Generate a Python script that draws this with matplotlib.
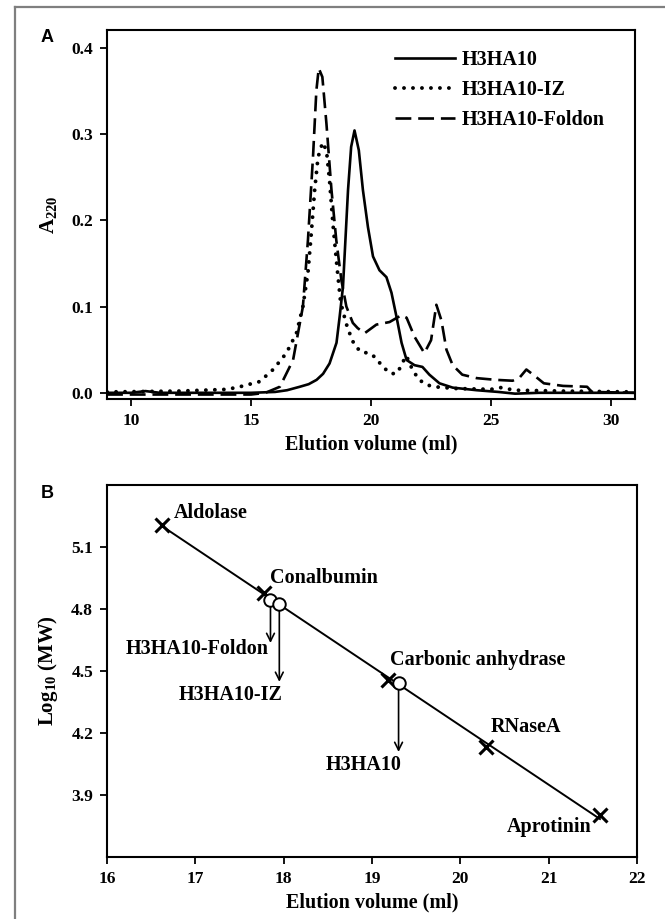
import numpy as np
import matplotlib
matplotlib.use("Agg")
import matplotlib.pyplot as plt
from matplotlib.lines import Line2D

plt.rcParams["font.family"] = "Liberation Serif"
plt.rcParams["font.weight"] = "bold"
plt.rcParams["axes.labelweight"] = "bold"
plt.rcParams["mathtext.fontset"] = "custom"
plt.rcParams["mathtext.rm"] = "Liberation Serif:bold"
plt.rcParams["mathtext.bf"] = "Liberation Serif:bold"

# --- panel A: elution profiles (volume ml, A220) ---
h3_vol = [9.0, 10.0, 10.6, 11.2, 13.0, 15.0, 16.0, 16.5, 17.03, 17.4, 17.73, 18.0, 18.27, 18.56,
          18.69, 18.83, 19.04, 19.17, 19.31, 19.49, 19.66, 19.87, 20.08, 20.35, 20.64, 20.85,
          21.06, 21.27, 21.48, 21.81, 22.14, 22.43, 22.85, 23.4, 24.4, 25.3, 26.0, 27.0, 31.0]
h3_abs = [0.0, 0.0, 0.002, 0.0, 0.0, 0.0, 0.001, 0.003, 0.007, 0.010, 0.015, 0.022, 0.034, 0.058,
          0.088, 0.123, 0.235, 0.285, 0.304, 0.281, 0.235, 0.192, 0.158, 0.142, 0.134, 0.116,
          0.088, 0.058, 0.038, 0.032, 0.030, 0.021, 0.011, 0.006, 0.003, 0.001, -0.001, 0.0, 0.0]

iz_vol = [9.0, 12.0, 14.0, 14.53, 15.36, 15.92, 16.47, 16.89, 17.16, 17.37, 17.51, 17.65, 17.79,
          17.98, 18.14, 18.27, 18.41, 18.58, 18.72, 18.81, 19.02, 19.31, 19.6, 19.94, 20.22,
          20.48, 20.85, 21.1, 21.31, 21.47, 21.72, 22.0, 22.35, 22.64, 23.5, 25.0, 25.4, 26.0,
          28.0, 31.0]
iz_abs = [0.001, 0.002, 0.004, 0.007, 0.013, 0.027, 0.046, 0.069, 0.100, 0.139, 0.185, 0.235, 0.273,
          0.290, 0.281, 0.246, 0.196, 0.146, 0.108, 0.096, 0.075, 0.055, 0.047, 0.046, 0.040,
          0.030, 0.022, 0.023, 0.035, 0.043, 0.027, 0.015, 0.009, 0.007, 0.005, 0.004, 0.006,
          0.003, 0.002, 0.001]

fol_vol = [9.0, 12.0, 15.0, 15.6, 16.2, 16.75, 17.16, 17.37, 17.58, 17.72, 17.82, 17.97, 18.14,
           18.35, 18.55, 18.76, 18.97, 19.24, 19.44, 19.73, 20.22, 20.77, 21.27, 21.48, 21.81,
           22.22, 22.5, 22.72, 22.93, 23.14, 23.4, 23.8, 24.4, 25.2, 25.9, 26.2, 26.47, 26.8,
           27.2, 28.0, 29.0, 29.2, 31.0]
fol_abs = [-0.002, -0.002, -0.002, 0.0, 0.007, 0.038, 0.100, 0.177, 0.273, 0.350, 0.376, 0.366,
           0.312, 0.235, 0.177, 0.131, 0.100, 0.081, 0.075, 0.069, 0.079, 0.082, 0.090, 0.087,
           0.065, 0.046, 0.061, 0.102, 0.084, 0.050, 0.032, 0.021, 0.017, 0.015, 0.014, 0.018,
           0.027, 0.020, 0.011, 0.008, 0.007, 0.001, 0.0]

# --- panel B: calibration ---
std_names = ["Aldolase", "Conalbumin", "Carbonic anhydrase", "RNaseA", "Aprotinin"]
std_vol = [16.62, 17.78, 19.18, 20.29, 21.58]
std_logmw = [5.206, 4.877, 4.457, 4.132, 3.803]

smp_names = ["H3HA10-Foldon", "H3HA10-IZ", "H3HA10"]
smp_vol = [17.85, 17.95, 19.30]
smp_logmw = [4.843, 4.824, 4.442]
arrow_end = [4.635, 4.447, 4.108]

fig = plt.figure(figsize=(6.65, 9.19), dpi=100)
ax1 = fig.add_axes([0.161, 0.566, 0.794, 0.401])
ax2 = fig.add_axes([0.161, 0.0675, 0.797, 0.405])

# outer frame
fig.add_artist(Line2D([15 / 665, 15 / 665], [0, 1 - 7 / 919], color="#7f7f7f", lw=1.6))
fig.add_artist(Line2D([15 / 665, 1], [1 - 7 / 919, 1 - 7 / 919], color="#7f7f7f", lw=1.6))

ax1.plot(h3_vol, h3_abs, color="black", lw=1.9, label="H3HA10")
ax1.plot(iz_vol, iz_abs, color="black", lw=2.8, linestyle=(0, (0.01, 2.3)),
         dash_capstyle="round", label="H3HA10-IZ")
ax1.plot(fol_vol, fol_abs, color="black", lw=1.9, linestyle=(0, (6, 2.6)), label="H3HA10-Foldon")
ax1.set_xlim(9, 31)
ax1.set_ylim(-0.007, 0.42)
ax1.set_xticks([10, 15, 20, 25, 30])
ax1.set_yticks([0.0, 0.1, 0.2, 0.3, 0.4])
ax1.set_yticklabels(["0.0", "0.1", "0.2", "0.3", "0.4"])
ax1.set_xlabel("Elution volume (ml)", fontsize=14.5, labelpad=4)
ax1.set_ylabel(r"A$_{220}$", fontsize=15, labelpad=8)
ax1.legend(loc="upper left", bbox_to_anchor=(0.545, 0.947), frameon=False, fontsize=14.5,
           handlelength=3.0, handletextpad=0.3, labelspacing=0.5, borderpad=0, borderaxespad=0)

ax2.plot(std_vol, std_logmw, linestyle="none", marker="x", ms=10, mew=2.2, color="black", zorder=4)
fit = np.polyfit(std_vol, std_logmw, 1)
xs = np.array([std_vol[0], std_vol[-1]])
ax2.plot(xs, np.polyval(fit, xs), color="black", lw=1.4, zorder=2)
ax2.plot(smp_vol, smp_logmw, linestyle="none", marker="o", ms=9, mew=1.4,
         mfc="white", mec="black", zorder=5)
for xv, y0, y1 in zip(smp_vol, smp_logmw, arrow_end):
    ax2.annotate("", xy=(xv, y1), xytext=(xv, y0 - 0.035),
                 arrowprops=dict(arrowstyle="->", lw=1.2, color="black",
                                 shrinkA=0, shrinkB=0, mutation_scale=14))

fs = 14.5
ax2.text(16.76, 5.264, "Aldolase", fontsize=fs, ha="left", va="center")
ax2.text(17.85, 4.95, "Conalbumin", fontsize=fs, ha="left", va="center")
ax2.text(19.2, 4.553, "Carbonic anhydrase", fontsize=fs, ha="left", va="center")
ax2.text(20.34, 4.23, "RNaseA", fontsize=fs, ha="left", va="center")
ax2.text(21.49, 3.745, "Aprotinin", fontsize=fs, ha="right", va="center")
ax2.text(17.83, 4.607, "H3HA10-Foldon", fontsize=fs, ha="right", va="center")
ax2.text(17.99, 4.384, "H3HA10-IZ", fontsize=fs, ha="right", va="center")
ax2.text(18.9, 4.045, "H3HA10", fontsize=fs, ha="center", va="center")

ax2.set_xlim(16, 22)
ax2.set_ylim(3.6, 5.4)
ax2.set_xticks(range(16, 23))
ax2.set_yticks([3.9, 4.2, 4.5, 4.8, 5.1])
ax2.set_xlabel("Elution volume (ml)", fontsize=14.5, labelpad=4)
ax2.set_ylabel(r"Log$_{10}$ (MW)", fontsize=15, labelpad=8)

for ax in (ax1, ax2):
    for sp in ax.spines.values():
        sp.set_linewidth(1.5)
    ax.tick_params(direction="out", length=5, width=1.3, labelsize=12.5, pad=5)

fig.text(47 / 665, 1 - 38 / 919, "A", fontsize=13, fontweight="bold",
         family="Liberation Sans", ha="center", va="center")
fig.text(47 / 665, 1 - 493 / 919, "B", fontsize=13, fontweight="bold",
         family="Liberation Sans", ha="center", va="center")

fig.savefig("out.png", dpi=100)
